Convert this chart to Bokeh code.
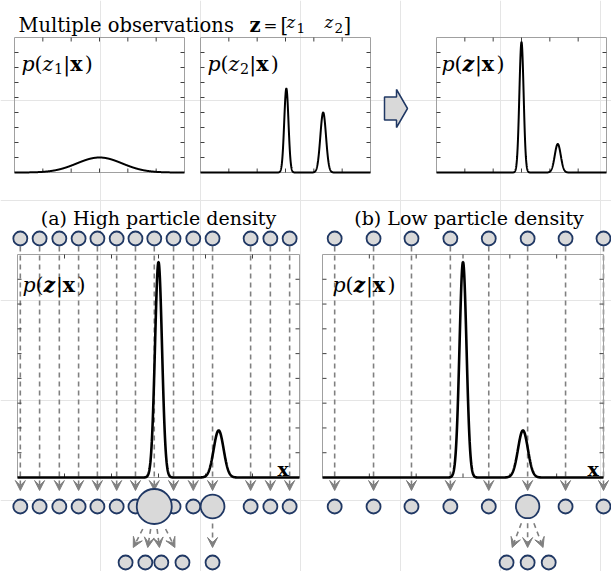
import numpy as np
from bokeh.plotting import figure
from bokeh.models import Range1d, ColumnDataSource, Arrow, VeeHead
from bokeh.core.properties import value
from bokeh.embed import file_html
from bokeh.resources import INLINE

# ---------------- data ----------------
x_ticks = [-3, -2, -1, 0, 1, 2, 3]
y_ticks = [0, 1, 2, 3, 4, 5, 6, 7, 8, 9]

# Gaussian components: mean, std-dev, peak height
z1_mean = [0.0]
z1_sd = [0.8]
z1_peak = [1.0]

z2_mean = [0.03, 1.33]
z2_sd = [0.075, 0.10]
z2_peak = [5.6, 4.0]

post_mean = [0.0, 1.28]
post_sd = [0.075, 0.105]
post_peak = [8.7, 1.9]

# panel (a): high particle density
a_x = [-2.94, -2.53, -2.11, -1.70, -1.30, -0.89, -0.49, -0.09, 0.32, 0.74, 1.15, 1.96, 2.38, 2.79]
a_weight = [1, 1, 1, 1, 1, 1, 1, 6.25, 1, 1, 2.9, 1, 1, 1]
a_parent = [7, 7, 7, 7, 10]
a_child_x = [-0.70, -0.28, 0.06, 0.51, 1.15]

# panel (b): low particle density
b_x = [-2.74, -1.91, -1.10, -0.27, 0.55, 1.38, 2.19, 3.00]
b_weight = [1, 1, 1, 1, 1, 2.8, 1, 1]
b_parent = [5, 5, 5]
b_child_x = [0.93, 1.38, 1.83]

# ---------------- styles ----------------
W, H = 611, 571
M = 0
SERIF = "DejaVu Serif"
BOX = "#a0a0a0"
TICK = "#404040"
GRAY = "#808080"
NAVY = "#203864"
FILL = "#d9d9d9"
TICK_LEN = 4

p = figure(width=W, height=H, x_range=Range1d(M, M + W), y_range=Range1d(M + H, M),
           output_backend="svg", toolbar_location=None, min_border=0,
           x_axis_location=None, y_axis_location=None)
p.outline_line_color = None
p.background_fill_color = "white"
p.border_fill_color = "white"


def gauss(xs, means, sds, peaks):
    out = np.zeros_like(xs)
    for m, s, h in zip(means, sds, peaks):
        out += h * np.exp(-0.5 * ((xs - m) / s) ** 2)
    return out


def panel(name, L, R, T, B, means, sds, peaks):
    xmin, xmax = x_ticks[0], x_ticks[-1]
    ymin, ymax = y_ticks[0], y_ticks[-1]
    sx = (R - L) / (xmax - xmin)
    sy = (B - T) / (ymax - ymin)
    p.extra_x_ranges[name] = Range1d(xmin - (L - M) / sx, xmax + (M + W - R) / sx)
    p.extra_y_ranges[name] = Range1d(ymin - (M + H - B) / sy, ymax + (T - M) / sy)
    p.quad(left=xmin, right=xmax, bottom=ymin, top=ymax, fill_color=None,
           line_color=BOX, line_width=1, x_range_name=name, y_range_name=name)
    inner_x = x_ticks[1:-1]
    inner_y = y_ticks[1:-1]
    p.segment(x0=inner_x, x1=inner_x, y0=[T] * len(inner_x), y1=[T + TICK_LEN] * len(inner_x),
              line_color=TICK, line_width=1, x_range_name=name)
    p.segment(x0=inner_x, x1=inner_x, y0=[B] * len(inner_x), y1=[B - TICK_LEN] * len(inner_x),
              line_color=TICK, line_width=1, x_range_name=name)
    p.segment(x0=[L] * len(inner_y), x1=[L + TICK_LEN] * len(inner_y), y0=inner_y, y1=inner_y,
              line_color=TICK, line_width=1, y_range_name=name)
    p.segment(x0=[R] * len(inner_y), x1=[R - TICK_LEN] * len(inner_y), y0=inner_y, y1=inner_y,
              line_color=TICK, line_width=1, y_range_name=name)
    xs = np.linspace(xmin, xmax, 1500)
    return xs, gauss(xs, means, sds, peaks)


# ---------------- texts ----------------
W_REG = {'(': 0.390, ')': 0.390, '|': 0.337, '=': 0.838, '[': 0.390, ']': 0.390,
         '1': 0.636, '2': 0.636, ' ': 0.318}
W_IT = {'p': 0.640, 'z': 0.560}
W_B = {'x': 0.710, 'z': 0.590}
W_BI = {'z': 0.600}
TABLES = {'normal': W_REG, 'italic': W_IT, 'bold': W_B, 'bold italic': W_BI}

texts = dict(x=[], y=[], text=[], style=[], size=[])


def put(x, y, s, style, size):
    texts['x'].append(x)
    texts['y'].append(y)
    texts['text'].append(s)
    texts['style'].append(style)
    texts['size'].append(f"{size:.1f}px")


def add_math(x0, y0, pieces, fs):
    x = x0
    for s, st, k, dy in pieces:
        size = fs * k
        put(x, y0 + dy * fs, s, st, size)
        x += sum(TABLES[st].get(c, 0.6) for c in s) * size


PZ1 = [("p", "italic", 1, 0), ("(", "normal", 1, 0), ("z", "italic", 1, 0),
       ("1", "normal", 0.7, 0.2), ("|", "normal", 1, 0), ("x", "bold", 1, 0), (")", "normal", 1, 0)]
PZ2 = [("p", "italic", 1, 0), ("(", "normal", 1, 0), ("z", "italic", 1, 0),
       ("2", "normal", 0.7, 0.2), ("|", "normal", 1, 0), ("x", "bold", 1, 0), (")", "normal", 1, 0)]
PZ = [("p", "italic", 1, 0), ("(", "normal", 1, 0), ("z", "bold italic", 1, 0),
      ("|", "normal", 1, 0), ("x", "bold", 1, 0), (")", "normal", 1, 0)]

LABEL_FS = 20.5
TITLE_FS = 19.5

# top row panels
T1 = (14, 184, 37, 172)
T2 = (200, 370, 37, 172)
T3 = (436, 606, 37, 172)
for name, box, (mm, ss, hh) in (("t1", T1, (z1_mean, z1_sd, z1_peak)),
                                ("t2", T2, (z2_mean, z2_sd, z2_peak)),
                                ("t3", T3, (post_mean, post_sd, post_peak))):
    xs, ys = panel(name, *box, mm, ss, hh)
    p.line(xs, ys, x_range_name=name, y_range_name=name, line_color="black", line_width=2)

add_math(T1[0] + 7, T1[2] + 26.5, PZ1, LABEL_FS)
add_math(T2[0] + 7, T2[2] + 26.5, PZ2, LABEL_FS)
add_math(T3[0] + 5, T3[2] + 26.5, PZ, LABEL_FS)

# block arrow between the top panels
ax0, ay0 = 384, 108
shaft_len, shaft_h, head_len, head_h = 12, 23, 11, 38
arr_x = [ax0, ax0 + shaft_len, ax0 + shaft_len, ax0 + shaft_len + head_len,
         ax0 + shaft_len, ax0 + shaft_len, ax0]
arr_y = [ay0 - shaft_h / 2, ay0 - shaft_h / 2, ay0 - head_h / 2, ay0,
         ay0 + head_h / 2, ay0 + shaft_h / 2, ay0 + shaft_h / 2]
p.patch(arr_x, arr_y, fill_color=FILL, line_color=NAVY, line_width=1.5)

# title
put(18, 25, "Multiple observations", "normal", TITLE_FS)
put(249, 25, "z", "bold", TITLE_FS)
put(263, 25, "=", "normal", TITLE_FS * 0.85)
put(280, 25, "[", "normal", TITLE_FS)
put(286, 22, "z", "italic", TITLE_FS * 0.85)
put(296, 27, "1", "normal", TITLE_FS * 0.7)
put(324, 22, "z", "italic", TITLE_FS * 0.85)
put(334, 27, "2", "normal", TITLE_FS * 0.7)
put(343, 25, "]", "normal", TITLE_FS)

# ---------------- bottom panels ----------------
PA = (17, 299, 254, 477)
PB = (322, 603, 254, 477)
ROW_TOP, ROW_BOT, ROW_KID = 238, 506, 562
SMALL = 14
ARROW_END = 490
KID_ARROW_END = 547

curve_a = panel("a", *PA, post_mean, post_sd, post_peak)
curve_b = panel("b", *PB, post_mean, post_sd, post_peak)


def particles(name, px, weight, parents, kids_x, curve):
    n = len(px)
    src = ColumnDataSource(dict(x=px, ys=[ROW_TOP + SMALL / 2 + 1] * n, ye=[ARROW_END] * n))
    p.add_layout(Arrow(x_start="x", y_start="ys", x_end="x", y_end="ye", source=src,
                       x_range_name=name, line_color=GRAY, line_width=1.6, line_dash="5 4",
                       end=VeeHead(size=10, fill_color=GRAY, line_color=GRAY, line_width=1),
                       level="underlay"))
    xs0, ys0, xs1, ys1 = [], [], [], []
    for par, kx in zip(parents, kids_x):
        r = SMALL * np.sqrt(weight[par]) / 2
        ystart = ROW_BOT + r + 5
        t0 = (ystart - ROW_BOT) / (ROW_KID - ROW_BOT)
        t1 = (KID_ARROW_END - ROW_BOT) / (ROW_KID - ROW_BOT)
        xs0.append(px[par] + t0 * (kx - px[par]))
        xs1.append(px[par] + t1 * (kx - px[par]))
        ys0.append(ystart)
        ys1.append(KID_ARROW_END)
    src2 = ColumnDataSource(dict(x0=xs0, y0=ys0, x1=xs1, y1=ys1))
    p.add_layout(Arrow(x_start="x0", y_start="y0", x_end="x1", y_end="y1", source=src2,
                       x_range_name=name, line_color=GRAY, line_width=1.6, line_dash="5 4",
                       end=VeeHead(size=10, fill_color=GRAY, line_color=GRAY, line_width=1),
                       level="underlay"))
    p.line(curve[0], curve[1], x_range_name=name, y_range_name=name,
           line_color="black", line_width=2.6)
    p.scatter(x=px, y=[ROW_TOP] * n, size=SMALL, fill_color=FILL, line_color=NAVY,
              line_width=1.8, x_range_name=name)
    order = np.argsort(weight, kind="stable")
    p.scatter(x=[px[i] for i in order], y=[ROW_BOT] * n,
              size=[SMALL * np.sqrt(weight[i]) for i in order],
              fill_color=FILL, line_color=NAVY, line_width=1.8, x_range_name=name)
    p.scatter(x=kids_x, y=[ROW_KID] * len(kids_x), size=SMALL, fill_color=FILL,
              line_color=NAVY, line_width=1.8, x_range_name=name)


particles("a", a_x, a_weight, a_parent, a_child_x, curve_a)
particles("b", b_x, b_weight, b_parent, b_child_x, curve_b)

add_math(PA[0] + 5, PA[2] + 30, PZ, LABEL_FS)
add_math(PB[0] + 10, PB[2] + 30, PZ, LABEL_FS)
put(PA[1] - 22, 468, "x", "bold", 19)
put(PB[1] - 16, 468, "x", "bold", 19)

p.text(x=(PA[0] + PA[1]) / 2, y=217, text=["(a) High particle density"],
       text_font=value(SERIF), text_font_size="19px", text_align="center",
       text_baseline="alphabetic", text_color="black")
p.text(x=(PB[0] + PB[1]) / 2 + 6, y=217, text=["(b) Low particle density"],
       text_font=value(SERIF), text_font_size="19px", text_align="center",
       text_baseline="alphabetic", text_color="black")

tsrc = ColumnDataSource(texts)
p.text(x="x", y="y", text="text", source=tsrc, text_font=value(SERIF),
       text_font_style="style", text_font_size="size", text_align="left",
       text_baseline="alphabetic", text_color="black")

open("out.html", "w").write(file_html(p, INLINE))
